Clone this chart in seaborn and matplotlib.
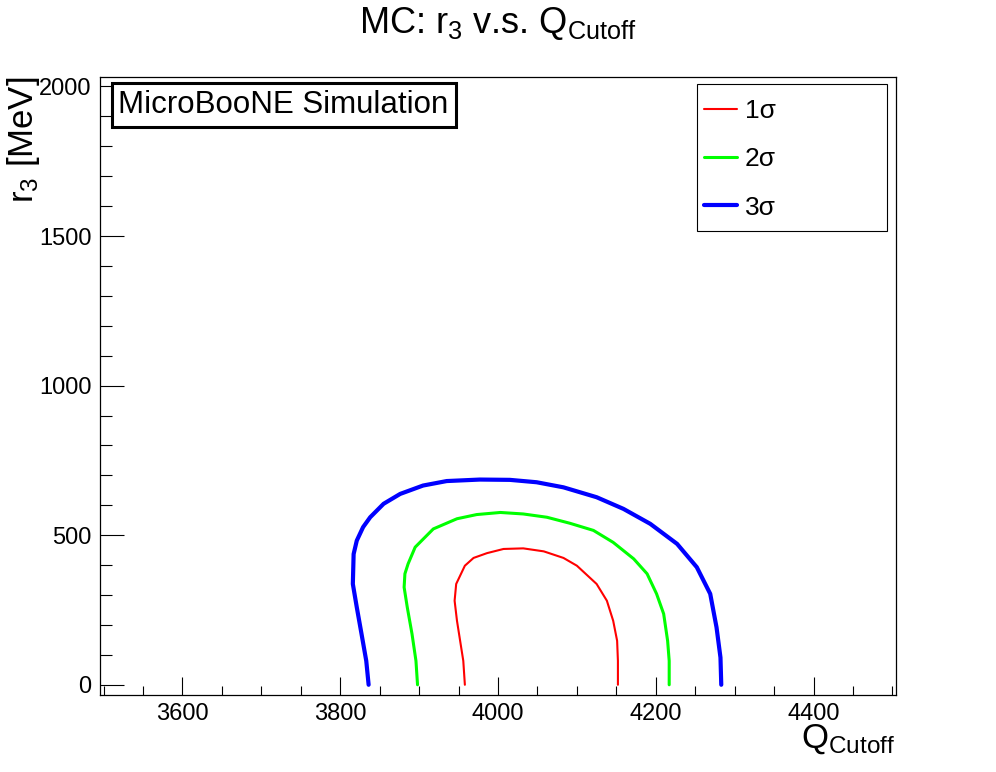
import matplotlib
matplotlib.use("Agg")
import matplotlib.pyplot as plt
from matplotlib.patches import Rectangle
import seaborn as sns
import pandas as pd
import numpy as np

sns.set_style("ticks")
plt.rcParams['font.family'] = ['Liberation Sans', 'DejaVu Sans']
plt.rcParams['mathtext.fontset'] = 'custom'
plt.rcParams['mathtext.rm'] = 'Liberation Sans'
plt.rcParams['mathtext.it'] = 'Liberation Sans:italic'
plt.rcParams['mathtext.bf'] = 'Liberation Sans:bold'
for k in ['text.color', 'axes.labelcolor', 'xtick.color', 'ytick.color', 'axes.edgecolor']:
    plt.rcParams[k] = 'black'

# contour points (Q_cutoff, r3 [MeV])
q_1sig = [3958, 3956, 3952, 3948, 3945, 3947, 3958, 3969, 3986, 4007, 4032,
          4058, 4083, 4100, 4125, 4138, 4146, 4151, 4152, 4152]
r_1sig = [0, 80, 147, 214, 281, 337, 398, 424, 440, 454, 456,
          446, 424, 398, 337, 281, 214, 147, 80, 0]

q_2sig = [3898, 3896, 3891, 3885, 3881, 3882, 3886, 3895, 3918, 3948, 3973, 4003,
          4032, 4062, 4091, 4121, 4146, 4172, 4189, 4201, 4210, 4215, 4217, 4217]
r_2sig = [0, 80, 170, 259, 326, 371, 404, 460, 521, 555, 569, 576,
          571, 560, 540, 516, 476, 421, 371, 304, 237, 147, 80, 0]

q_3sig = [3836, 3833, 3827, 3821, 3816, 3817, 3821, 3829, 3838, 3855, 3876, 3905, 3935,
          3977, 4015, 4049, 4083, 4125, 4159, 4193, 4227, 4252, 4269, 4277, 4282, 4283]
r_3sig = [0, 80, 170, 259, 337, 437, 482, 527, 560, 605, 638, 666, 681,
          686, 685, 677, 660, 627, 588, 538, 471, 393, 304, 192, 91, 0]

labels = [u'1\u03c3', u'2\u03c3', u'3\u03c3']
contours = [(q_1sig, r_1sig), (q_2sig, r_2sig), (q_3sig, r_3sig)]
colors = ['#ff0000', '#00ff00', '#0000ff']
widths = [1.5, 2.2, 3.0]

W, H = 996, 772
fig = plt.figure(figsize=(W / 100, H / 100), dpi=100)
ax = fig.add_axes([0.1, 0.1, 0.8, 0.8])

for (q, r), lab, c, w in zip(contours, labels, colors, widths):
    df = pd.DataFrame({'q': q, 'r': r})
    sns.lineplot(data=df, x='q', y='r', sort=False, estimator=None,
                 color=c, lw=w, label=lab, ax=ax)

ax.set_xlim(3495, 4505)
ax.set_ylim(-33.5, 2031)
ax.set_xticks(np.arange(3600, 4401, 200))
ax.set_xticks(np.arange(3500, 4501, 50), minor=True)
ax.set_yticks(np.arange(0, 2001, 500))
ax.set_yticks(np.arange(0, 2001, 100), minor=True)
ax.tick_params(axis='x', which='major', direction='in', length=13, width=0.8,
               labelsize=17, pad=6)
ax.tick_params(axis='x', which='minor', direction='in', length=6.5, width=0.8)
ax.tick_params(axis='y', which='major', direction='in', length=17, width=0.8,
               labelsize=17, pad=6)
ax.tick_params(axis='y', which='minor', direction='in', length=8.5, width=0.8)
for s in ax.spines.values():
    s.set_linewidth(0.9)
ax.set_xlabel('')
ax.set_ylabel('')

fig.text(0.5, 1 - 33 / H, r'MC: r$_{3}$ v.s. Q$_{\mathrm{Cutoff}}$',
         ha='center', va='baseline', fontsize=26)
fig.text(895 / W, 1 - 748 / H, r'Q$_{\mathrm{Cutoff}}$',
         ha='right', va='baseline', fontsize=25)
fig.text(24 / W, 1 - 77 / H, r'r$_{3}$ [MeV]', rotation=90,
         ha='center', va='top', fontsize=25)

ax.text(0.0237, 0.9791, 'MicroBooNE Simulation', transform=ax.transAxes,
        ha='left', va='top', fontsize=22.5,
        bbox=dict(boxstyle='square,pad=0.22', fc='white', ec='black', lw=2.2))

# legend box (ROOT TLegend style)
ax.add_patch(Rectangle((697.3 / W, 1 - 231 / H), 189.4 / W, 147 / H,
                       transform=fig.transFigure, fc='white', ec='black',
                       lw=0.8, zorder=4, clip_on=False))
leg = ax.legend(loc='upper left', bbox_to_anchor=(704 / W, 1 - 99 / H),
                bbox_transform=fig.transFigure, borderaxespad=0, borderpad=0,
                fontsize=19, handlelength=1.25, handletextpad=0.3,
                labelspacing=0.92, frameon=False)
leg.set_zorder(5)

fig.savefig('out.png', dpi=100)
